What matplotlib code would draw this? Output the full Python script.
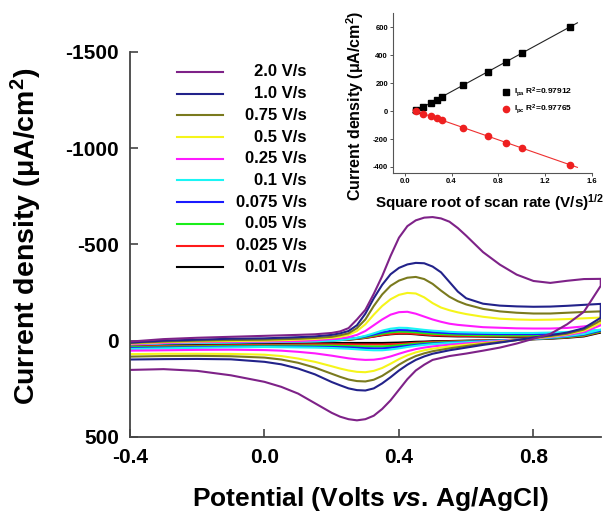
import numpy as np
import matplotlib
matplotlib.use("Agg")
import matplotlib.pyplot as plt

plt.rcParams.update({
    "font.family": "Liberation Sans",
    "font.weight": "bold",
    "axes.unicode_minus": False,
    "mathtext.fontset": "custom",
    "mathtext.rm": "Liberation Sans:bold",
    "mathtext.bf": "Liberation Sans:bold",
    "mathtext.it": "Liberation Sans:italic:bold",
    "mathtext.default": "rm",
})

# scan rates (V/s), slowest first
scan_rates = [0.01, 0.025, 0.05, 0.075, 0.1, 0.25, 0.5, 0.75, 1.0, 2.0]
rate_labels = ["0.01 V/s", "0.025 V/s", "0.05 V/s", "0.075 V/s", "0.1 V/s",
               "0.25 V/s", "0.5 V/s", "0.75 V/s", "1.0 V/s", "2.0 V/s"]
colors = ["#000000", "#ff1a1a", "#1aee1a", "#1a1aff", "#1af5f5",
          "#ff1aff", "#f5f51a", "#7a7a1e", "#22228a", "#7e2288"]

# forward (anodic) sweep potentials, V vs Ag/AgCl
E_fwd = [-0.4, -0.3, -0.2, -0.1, 0.0, 0.1, 0.15, 0.2, 0.225, 0.25, 0.275, 0.3,
         0.325, 0.35, 0.375, 0.4, 0.425, 0.45, 0.475, 0.5, 0.525, 0.55, 0.575,
         0.6, 0.65, 0.7, 0.75, 0.8, 0.85, 0.9, 0.95, 1.0]
# reverse (cathodic) sweep potentials
E_rev = [1.0, 0.95, 0.9, 0.85, 0.8, 0.75, 0.7, 0.65, 0.6, 0.55, 0.5, 0.475,
         0.45, 0.425, 0.4, 0.375, 0.35, 0.325, 0.3, 0.275, 0.25, 0.225, 0.2,
         0.15, 0.1, 0.05, 0.0, -0.1, -0.2, -0.3, -0.4]

# current density (uA/cm2) on the forward sweep
j_fwd_001 = [12, 9, 7, 5, 4, 2, 1, -1, -3, -5, -9, -14, -21, -28, -33, -36, -36, -33, -29, -26,
             -24, -23, -22, -22, -21, -20, -20, -21, -23, -28, -35, -45]
j_fwd_0025 = [14, 10, 8, 6, 4, 2, 0, -2, -4, -6, -10, -15, -22, -30, -35, -38, -38, -35, -32, -29,
              -27, -26, -25, -25, -24, -23, -23, -24, -26, -30, -37, -48]
j_fwd_005 = [16, 12, 9, 7, 5, 2, 0, -3, -5, -8, -12, -18, -27, -36, -43, -47, -46, -43, -39, -36,
             -34, -32, -31, -30, -28, -27, -27, -28, -30, -35, -42, -52]
j_fwd_0075 = [18, 13, 10, 8, 6, 3, 1, -2, -5, -9, -14, -22, -32, -43, -51, -55, -54, -51, -47, -44,
              -41, -39, -37, -36, -35, -34, -34, -34, -36, -40, -46, -56]
j_fwd_01 = [20, 15, 12, 10, 8, 5, 3, 0, -3, -8, -15, -25, -38, -52, -62, -67, -66, -61, -56, -52,
            -49, -46, -44, -43, -41, -40, -40, -40, -42, -45, -50, -57]
j_fwd_025 = [18, 12, 8, 6, 5, 2, -2, -8, -12, -18, -30, -50, -80, -110, -135, -148, -150, -140, -125, -110,
             -98, -88, -82, -78, -70, -67, -64, -63, -63, -66, -74, -88]
j_fwd_05 = [15, 8, 4, 2, 0, -5, -9, -15, -20, -30, -50, -85, -135, -180, -215, -238, -248, -245, -225, -195,
            -172, -158, -147, -138, -124, -114, -110, -108, -109, -112, -116, -120]
j_fwd_075 = [12, 5, 0, -3, -5, -10, -14, -20, -28, -38, -65, -110, -180, -240, -285, -312, -327, -331, -320, -295,
             -260, -228, -205, -188, -165, -152, -145, -141, -141, -145, -149, -152]
j_fwd_10 = [10, 0, -5, -10, -12, -18, -22, -30, -38, -50, -80, -140, -220, -290, -345, -378, -396, -404, -402, -385,
            -355, -305, -255, -220, -192, -182, -178, -176, -177, -181, -186, -191]
j_fwd_20 = [5, -8, -15, -20, -25, -30, -33, -40, -48, -65, -110, -160, -243, -335, -440, -535, -595, -625, -639, -642,
            -635, -618, -585, -545, -460, -395, -343, -310, -300, -311, -320, -321]

# current density (uA/cm2) on the reverse sweep
j_rev_001 = [-42, -22, -15, -10, -7, -4, -3, -1, 0, 2, 3, 5, 6, 8, 10, 11,
             12, 12, 12, 12, 12, 12, 13, 14, 15, 16, 17, 19, 21, 23, 25]
j_rev_0025 = [-45, -25, -17, -12, -8, -5, -3, -1, 2, 4, 7, 9, 11, 14, 17, 19,
              20, 20, 20, 20, 19, 19, 19, 19, 20, 21, 22, 24, 26, 28, 30]
j_rev_005 = [-48, -28, -19, -13, -8, -5, -2, 1, 4, 7, 11, 13, 16, 20, 24, 28,
             30, 30, 30, 29, 28, 27, 26, 26, 26, 26, 27, 28, 30, 32, 34]
j_rev_0075 = [-52, -32, -22, -15, -9, -5, -1, 2, 6, 10, 15, 18, 22, 27, 32, 37,
              40, 40, 39, 37, 35, 34, 33, 32, 31, 31, 31, 32, 34, 36, 38]
j_rev_01 = [-57, -35, -24, -16, -9, -4, 0, 4, 8, 12, 18, 22, 27, 33, 40, 46,
            50, 50, 48, 45, 42, 40, 38, 36, 35, 34, 33, 35, 37, 40, 43]
j_rev_025 = [-80, -45, -29, -19, -11, -4, 2, 8, 14, 21, 30, 36, 44, 55, 68, 82,
             93, 99, 100, 97, 92, 85, 78, 66, 58, 52, 49, 47, 48, 50, 52]
j_rev_05 = [-92, -52, -33, -21, -12, -3, 5, 13, 21, 30, 42, 50, 61, 76, 96, 120,
            142, 157, 164, 162, 155, 145, 133, 110, 93, 80, 73, 69, 68, 68, 70]
j_rev_075 = [-105, -58, -36, -24, -14, -3, 7, 17, 28, 40, 55, 66, 80, 100, 125, 155,
             183, 203, 212, 210, 202, 188, 172, 140, 115, 98, 88, 81, 79, 80, 83]
j_rev_10 = [-119, -65, -42, -28, -16, -3, 10, 22, 36, 50, 68, 82, 100, 125, 155, 190,
            222, 248, 259, 257, 248, 232, 215, 175, 145, 123, 110, 97, 95, 96, 98]
j_rev_20 = [-285, -150, -85, -35, -10, 15, 36, 52, 67, 80, 100, 125, 155, 200, 255, 310,
            355, 390, 408, 414, 408, 395, 375, 325, 275, 240, 214, 180, 157, 148, 152]

j_fwd = [j_fwd_001, j_fwd_0025, j_fwd_005, j_fwd_0075, j_fwd_01,
         j_fwd_025, j_fwd_05, j_fwd_075, j_fwd_10, j_fwd_20]
j_rev = [j_rev_001, j_rev_0025, j_rev_005, j_rev_0075, j_rev_01,
         j_rev_025, j_rev_05, j_rev_075, j_rev_10, j_rev_20]

# peak currents vs square root of scan rate
ipa = [5, 30, 60, 80, 100, 185, 280, 355, 415, 605]
ipc = [-2, -18, -38, -50, -65, -118, -180, -225, -265, -385]
ipa_label = r"I$_{pa}$ R$^{2}$=0.97912"
ipc_label = r"I$_{pc}$ R$^{2}$=0.97765"


fig = plt.figure(figsize=(6.13, 5.14), dpi=100)
ax = fig.add_axes([0.212, 0.150, 0.768, 0.749])

for i in range(len(scan_rates)):
    E = np.concatenate([E_fwd, E_rev])
    j = np.concatenate([j_fwd[i], j_rev[i]])
    ax.plot(E, j, color=colors[i], lw=1.5, solid_joinstyle="round")

ax.set_xlim(-0.4, 1.0)
ax.set_ylim(500, -1500)
ax.set_xticks([-0.4, 0.0, 0.4, 0.8])
ax.set_xticklabels(["%.1f" % v for v in [-0.4, 0.0, 0.4, 0.8]])
ax.set_yticks([-1500, -1000, -500, 0, 500])
for s in ["top", "right"]:
    ax.spines[s].set_visible(False)
for s in ["left", "bottom"]:
    ax.spines[s].set_linewidth(1.3)
    ax.spines[s].set_color("#444444")
ax.tick_params(direction="in", length=6, width=1.2, labelsize=15, pad=8, color="#444444")
for lab in ax.get_xticklabels() + ax.get_yticklabels():
    lab.set_fontweight("bold")

ax.set_ylabel(r"Current density ($\mu$A/cm$^{2}$)", fontsize=20.5, fontweight="bold")
ax.yaxis.set_label_coords(-0.183, 0.52)
ax.set_xlabel(r"Potential (Volts $\it{vs}$. Ag/AgCl)", fontsize=19, fontweight="bold")
ax.xaxis.set_label_coords(0.51, -0.125)

# legend, fastest scan on top, labels right-aligned
row_top, row_step = 0.948, 0.0564
for k, i in enumerate(range(len(scan_rates) - 1, -1, -1)):
    y = row_top - k * row_step
    ax.plot([0.100, 0.197], [y, y], transform=ax.transAxes, color=colors[i], lw=1.5)
    ax.text(0.376, y, rate_labels[i], transform=ax.transAxes, ha="right", va="center",
            fontsize=12, fontweight="bold")

# inset: peak current vs square root of scan rate
axin = fig.add_axes([0.641, 0.663, 0.325, 0.311])
sr = np.sqrt(scan_rates)
xfit = np.linspace(sr.min() - 0.03, sr.max() + 0.06, 2)
pa = np.polyfit(sr, ipa, 1)
pc = np.polyfit(sr, ipc, 1)
axin.plot(xfit, np.polyval(pa, xfit), color="#222222", lw=0.8)
axin.plot(xfit, np.polyval(pc, xfit), color="#ee3030", lw=0.8)
axin.plot(sr, ipa, "s", color="black", ms=4, label=ipa_label)
axin.plot(sr, ipc, "o", color="#ee2020", ms=4.5, label=ipc_label)
axin.set_xlim(-0.1, 1.6)
axin.set_ylim(-445, 700)
axin.set_xticks([0.0, 0.4, 0.8, 1.2, 1.6])
axin.set_yticks([-400, -200, 0, 200, 400, 600])
for s in ["top", "right"]:
    axin.spines[s].set_visible(False)
for s in ["left", "bottom"]:
    axin.spines[s].set_linewidth(0.8)
    axin.spines[s].set_color("#555555")
axin.tick_params(direction="out", length=2, width=0.7, labelsize=5.5, pad=1.5, color="#555555")
for lab in axin.get_xticklabels() + axin.get_yticklabels():
    lab.set_fontweight("bold")
axin.set_ylabel(r"Current density ($\mu$A/cm$^{2}$)", fontsize=11.5, fontweight="bold")
axin.yaxis.set_label_coords(-0.135, 0.42)
axin.set_xlabel(r"Square root of scan rate (V/s)$^{1/2}$", fontsize=11, fontweight="bold")
axin.xaxis.set_label_coords(0.487, -0.12)
axin.legend(loc="center left", bbox_to_anchor=(0.52, 0.45), frameon=False, fontsize=6,
            handlelength=0.8, handletextpad=0.6, labelspacing=0.5, borderpad=0.2)

fig.savefig("out.png", dpi=100)
